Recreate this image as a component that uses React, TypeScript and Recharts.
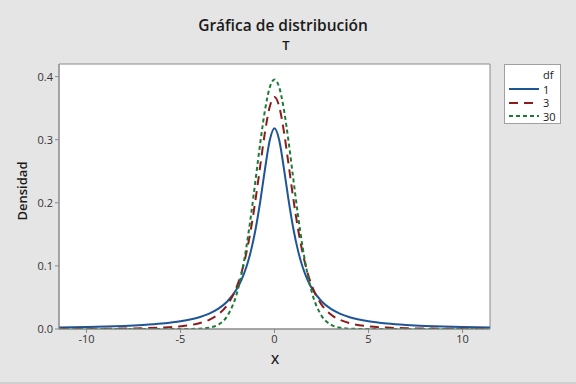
import React from 'react';
import {
    LineChart,
    Line,
    XAxis,
    YAxis,
    ReferenceArea,
} from "recharts";

// x positions where the densities were read
const X_VALUES = [
    -11.5, -10, -9, -8, -7, -6, -5, -4, -3.5, -3, -2.5, -2, -1.75, -1.5, -1.25, -1, -0.75, -0.5, -0.25,
    0,
    0.25, 0.5, 0.75, 1, 1.25, 1.5, 1.75, 2, 2.5, 3, 3.5, 4, 5, 6, 7, 8, 9, 10, 11.5,
];

const DF1 = [
    0.0024, 0.0032, 0.0039, 0.0049, 0.0064, 0.0086, 0.0122, 0.0187, 0.024, 0.0318, 0.0439, 0.0637, 0.0784, 0.0979, 0.1242, 0.1592, 0.2037, 0.2546, 0.2996,
    0.3183,
    0.2996, 0.2546, 0.2037, 0.1592, 0.1242, 0.0979, 0.0784, 0.0637, 0.0439, 0.0318, 0.024, 0.0187, 0.0122, 0.0086, 0.0064, 0.0049, 0.0039, 0.0032, 0.0024,
];

const DF3 = [
    0.0002, 0.0003, 0.0005, 0.0007, 0.0012, 0.0022, 0.0042, 0.0092, 0.0142, 0.023, 0.0387, 0.0675, 0.09, 0.12, 0.1589, 0.2067, 0.2606, 0.3132, 0.3527,
    0.3676,
    0.3527, 0.3132, 0.2606, 0.2067, 0.1589, 0.12, 0.09, 0.0675, 0.0387, 0.023, 0.0142, 0.0092, 0.0042, 0.0022, 0.0012, 0.0007, 0.0005, 0.0003, 0.0002,
];

const DF30 = [
    0, 0, 0, 0, 0, 0, 0, 0.0005, 0.002, 0.0068, 0.0211, 0.0568, 0.0877, 0.129, 0.1801, 0.238, 0.2966, 0.3479, 0.3831,
    0.3956,
    0.3831, 0.3479, 0.2966, 0.238, 0.1801, 0.129, 0.0877, 0.0568, 0.0211, 0.0068, 0.002, 0.0005, 0, 0, 0, 0, 0, 0, 0,
];

const X_TICKS = [-10, -5, 0, 5, 10];
const Y_TICKS = [0, 0.1, 0.2, 0.3, 0.4];

const SERIES = [
    { key: "df1", label: "1", color: "#1d5597", dash: undefined },
    { key: "df3", label: "3", color: "#8e1b1b", dash: "9 6" },
    { key: "df30", label: "30", color: "#1b7a34", dash: "4 3" },
];

const FONT = "'Open Sans', 'Noto Sans', sans-serif";
const AXIS_GRAY = "#8a8a8a";

export default function App() {
    const data = X_VALUES.map((x, i) => ({
        x,
        df1: DF1[i],
        df3: DF3[i],
        df30: DF30[i],
    }));

    return (
        <div style={{ position: 'absolute', left: 0, top: 0, width: 576, height: 384, background: '#e5e5e5', fontFamily: FONT, boxSizing: 'border-box', borderBottom: '2px solid #cfcfcf' }}>
            <div style={{ position: 'absolute', left: 0, width: 566, top: 18, lineHeight: 1, textAlign: 'center', fontSize: 15.5, fontWeight: 600, color: '#1a1a1a' }}>
                Gráfica de distribución
            </div>
            <div style={{ position: 'absolute', left: 0, width: 572, top: 39, lineHeight: 1, textAlign: 'center', fontSize: 13, fontWeight: 600, color: '#1a1a1a' }}>
                T
            </div>
            <div style={{ position: 'absolute', left: 22, top: 191, transform: 'translate(-50%, -50%) rotate(-90deg)', fontSize: 13, fontWeight: 600, color: '#1a1a1a', whiteSpace: 'nowrap' }}>
                Densidad
            </div>
            <div style={{ position: 'absolute', left: 275, top: 359, transform: 'translate(-50%, -50%)', fontSize: 13, fontWeight: 600, color: '#1a1a1a' }}>
                X
            </div>

            <LineChart
                width={576}
                height={384}
                data={data}
                margin={{ top: 64, right: 86, left: 0, bottom: 25 }}
                style={{ position: 'absolute', left: 0, top: 0 }}
            >
                <ReferenceArea x1={-11.46} x2={11.46} y1={0} y2={0.42} fill="#ffffff" fillOpacity={1} stroke={AXIS_GRAY} ifOverflow="extendDomain" />
                <XAxis
                    dataKey="x"
                    type="number"
                    domain={[-11.46, 11.46]}
                    allowDataOverflow
                    ticks={X_TICKS}
                    height={30}
                    tickSize={4}
                    tickLine={{ stroke: AXIS_GRAY }}
                    axisLine={{ stroke: AXIS_GRAY }}
                    tick={{ fontSize: 11, fill: '#333', fontFamily: FONT }}
                />
                <YAxis
                    type="number"
                    domain={[0, 0.42]}
                    allowDataOverflow
                    ticks={Y_TICKS}
                    width={59}
                    tickSize={4}
                    tickLine={{ stroke: AXIS_GRAY }}
                    axisLine={{ stroke: AXIS_GRAY }}
                    tick={{ fontSize: 11, fill: '#333', fontFamily: FONT }}
                    tickFormatter={(v) => Number(v).toFixed(1)}
                />
                {SERIES.map((s) => (
                    <Line
                        key={s.key}
                        type="monotone"
                        dataKey={s.key}
                        stroke={s.color}
                        strokeWidth={2}
                        strokeDasharray={s.dash}
                        dot={false}
                        activeDot={false}
                        isAnimationActive={false}
                    />
                ))}
            </LineChart>

            <div style={{ position: 'absolute', left: 504, top: 64, width: 57, height: 60, background: '#fff', border: '1px solid #a0a0a0', boxSizing: 'border-box', fontSize: 11, color: '#1a1a1a' }}>
                <div style={{ position: 'absolute', left: 38, top: 2 }}>df</div>
                {SERIES.map((s, i) => (
                    <div key={s.key} style={{ position: 'absolute', left: 4, top: 17 + i * 13.5, height: 14, display: 'flex', alignItems: 'center' }}>
                        <svg width={30} height={6}>
                            <line x1={0} y1={3} x2={30} y2={3} stroke={s.color} strokeWidth={2} strokeDasharray={s.dash} />
                        </svg>
                        <span style={{ marginLeft: 4 }}>{s.label}</span>
                    </div>
                ))}
            </div>
        </div>
    );
}
